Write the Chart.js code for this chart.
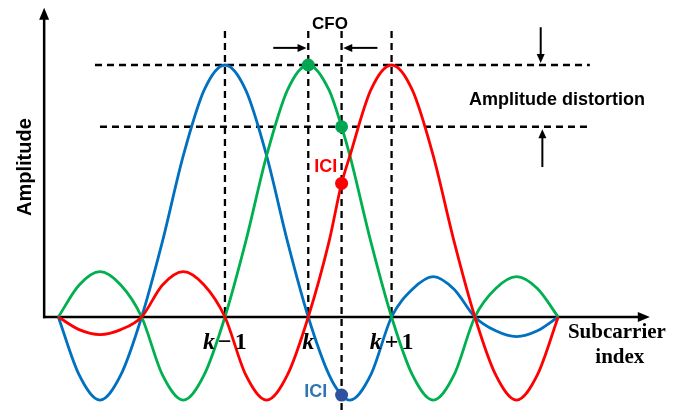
<!DOCTYPE html>
<html>
<head>
<meta charset="utf-8">
<script src="https://cdn.jsdelivr.net/npm/chart.js@4"></script>
<style>body{margin:0;background:#fff}</style>
</head>
<body>
<canvas id="myChart" width="684" height="414"></canvas>
<script>
// subcarrier positions relative to k (k-1 = -1, k = 0, k+1 = 1)
const subcarrier = [-3, -2.75, -2.5, -2.25, -2, -1.75, -1.5, -1.25, -1, -0.75, -0.5, -0.25, 0,
  0.25, 0.4, 0.5, 0.75, 1, 1.25, 1.5, 1.75, 2, 2.25, 2.5, 2.75, 3];

// amplitude, one value per subcarrier position
const blueAmp = [0, -0.23, -0.33, -0.23, 0, 0.30, 0.64, 0.90, 1, 0.90, 0.64, 0.30, 0,
  -0.23, -0.31, -0.33, -0.23, 0, 0.11, 0.16, 0.11, 0, -0.055, -0.078, -0.055, 0];
const greenAmp = [0, 0.127, 0.18, 0.127, 0, -0.23, -0.33, -0.23, 0, 0.30, 0.64, 0.90, 1,
  0.90, 0.755, 0.64, 0.30, 0, -0.23, -0.33, -0.23, 0, 0.113, 0.16, 0.113, 0];
const redAmp = [0, -0.05, -0.07, -0.05, 0, 0.127, 0.18, 0.127, 0, -0.23, -0.33, -0.23, 0,
  0.30, 0.53, 0.64, 0.90, 1, 0.90, 0.64, 0.30, 0, -0.23, -0.33, -0.23, 0];

// marked samples
const cfo = 0.4;
const greenDotX = [0, cfo];
const greenDotY = [1, 0.755];
const redDotY = 0.53;
const blueDotY = -0.31;

// tick labels under the x axis
const tickPos = [-1, 0, 1];
const tickText = [['k', '\u2212', '1'], ['k'], ['k', '+', '1']];

const toXY = (xs, ys) => xs.map((x, i) => ({ x: x, y: ys[i] }));

const ctx = document.getElementById('myChart').getContext('2d');

function arrow(c, x1, y1, x2, y2, len, half) {
  const a = Math.atan2(y2 - y1, x2 - x1);
  c.beginPath();
  c.moveTo(x1, y1);
  c.lineTo(x2 - Math.cos(a) * len * 0.6, y2 - Math.sin(a) * len * 0.6);
  c.stroke();
  c.beginPath();
  c.moveTo(x2, y2);
  c.lineTo(x2 - Math.cos(a) * len - Math.sin(a) * half, y2 - Math.sin(a) * len + Math.cos(a) * half);
  c.lineTo(x2 - Math.cos(a) * len + Math.sin(a) * half, y2 - Math.sin(a) * len - Math.cos(a) * half);
  c.closePath();
  c.fill();
}

const decor = {
  id: 'decor',
  beforeDatasetsDraw(chart) {
    const c = chart.ctx;
    const px = v => chart.scales.x.getPixelForValue(v);
    const py = v => chart.scales.y.getPixelForValue(v);
    c.save();
    c.strokeStyle = '#000';
    c.fillStyle = '#000';
    // dashed guides
    c.lineWidth = 2.3;
    c.setLineDash([7, 5]);
    c.beginPath();
    c.moveTo(px(-2.56), py(1)); c.lineTo(px(3.38), py(1));
    c.moveTo(px(-2.5), py(0.755)); c.lineTo(px(3.38), py(0.755));
    [-1, 0, 1].forEach(v => { c.moveTo(px(v), py(1.135)); c.lineTo(px(v), py(0)); });
    c.moveTo(px(cfo), py(1.135)); c.lineTo(px(cfo), py(-0.39));
    c.stroke();
    c.setLineDash([]);
    // axes
    c.lineWidth = 2.5;
    arrow(c, px(-3.17), py(-0.005), px(-3.17), py(1.227), 12, 5);
    arrow(c, px(-3.18), py(0), px(4.1), py(0), 12, 5);
    // CFO and distortion arrows
    c.lineWidth = 2;
    arrow(c, px(-0.42), py(1.068), px(-0.02), py(1.068), 9, 4);
    arrow(c, px(0.83), py(1.068), px(0.42), py(1.068), 9, 4);
    arrow(c, px(2.79), py(1.15), px(2.79), py(1.008), 9, 4);
    arrow(c, px(2.81), py(0.595), px(2.81), py(0.745), 9, 4);
    c.restore();
  },
  afterDatasetsDraw(chart) {
    const c = chart.ctx;
    const px = v => chart.scales.x.getPixelForValue(v);
    const py = v => chart.scales.y.getPixelForValue(v);
    c.save();
    c.textAlign = 'center';
    c.textBaseline = 'middle';
    c.fillStyle = '#000';
    c.font = 'bold 17px "Liberation Sans"';
    c.fillText('CFO', px(0.26), py(1.16));
    c.font = 'bold 18px "Liberation Sans"';
    c.fillText('Amplitude distortion', px(2.985), py(0.861));
    c.save();
    c.translate(px(-3.40), py(0.595));
    c.rotate(-Math.PI / 2);
    c.font = 'bold 20px "Liberation Sans"';
    c.fillText('Amplitude', 0, 0);
    c.restore();
    c.font = 'bold 21px "Liberation Serif"';
    c.fillText('Subcarrier', px(3.705), py(-0.063));
    c.fillText('index', px(3.74), py(-0.163));
    c.font = 'bold 18px "Liberation Sans"';
    c.fillStyle = '#ff0000';
    c.fillText('ICI', px(0.21), py(0.595));
    c.fillStyle = '#2e75b6';
    c.fillText('ICI', px(0.09), py(-0.298));
    // tick labels: italic k, upright sign and digit
    c.fillStyle = '#000';
    c.textAlign = 'left';
    tickPos.forEach((p, i) => {
      const parts = tickText[i];
      const fonts = parts.map((t, j) => j === 0 ? 'bold italic 24px "Liberation Serif"' : 'bold 24px "Liberation Serif"');
      const widths = parts.map((t, j) => { c.font = fonts[j]; return c.measureText(t).width; });
      const gap = 3;
      const total = widths.reduce((a, b) => a + b, 0) + gap * (parts.length - 1);
      let x = px(p) - total / 2;
      parts.forEach((t, j) => {
        c.font = fonts[j];
        c.fillText(t, x, py(-0.103));
        x += widths[j] + gap;
      });
    });
    c.restore();
  }
};

const lineStyle = { borderWidth: 2.8, pointRadius: 0, fill: false, cubicInterpolationMode: 'monotone' };

const myChart = new Chart(ctx, {
  type: 'line',
  data: {
    datasets: [
      { type: 'scatter', data: toXY(greenDotX, greenDotY), backgroundColor: '#00a651', borderWidth: 0, pointRadius: 6.5, order: 0 },
      { type: 'scatter', data: [{ x: cfo, y: redDotY }], backgroundColor: '#ff0000', borderWidth: 0, pointRadius: 6.5, order: 0 },
      { type: 'scatter', data: [{ x: cfo, y: blueDotY }], backgroundColor: '#2f52a0', borderWidth: 0, pointRadius: 6.5, order: 0 },
      Object.assign({ data: toXY(subcarrier, redAmp), borderColor: '#ff0000', order: 1 }, lineStyle),
      Object.assign({ data: toXY(subcarrier, greenAmp), borderColor: '#00b050', order: 2 }, lineStyle),
      Object.assign({ data: toXY(subcarrier, blueAmp), borderColor: '#0070c0', order: 3 }, lineStyle)
    ]
  },
  options: {
    responsive: false,
    animation: false,
    layout: { padding: 0, autoPadding: false },
    scales: {
      x: { type: 'linear', display: false, min: -3.70, max: 4.51 },
      y: { type: 'linear', display: false, min: -0.385, max: 1.258 }
    },
    plugins: {
      legend: { display: false },
      tooltip: { enabled: false }
    }
  },
  plugins: [decor]
});
</script>
</body>
</html>
